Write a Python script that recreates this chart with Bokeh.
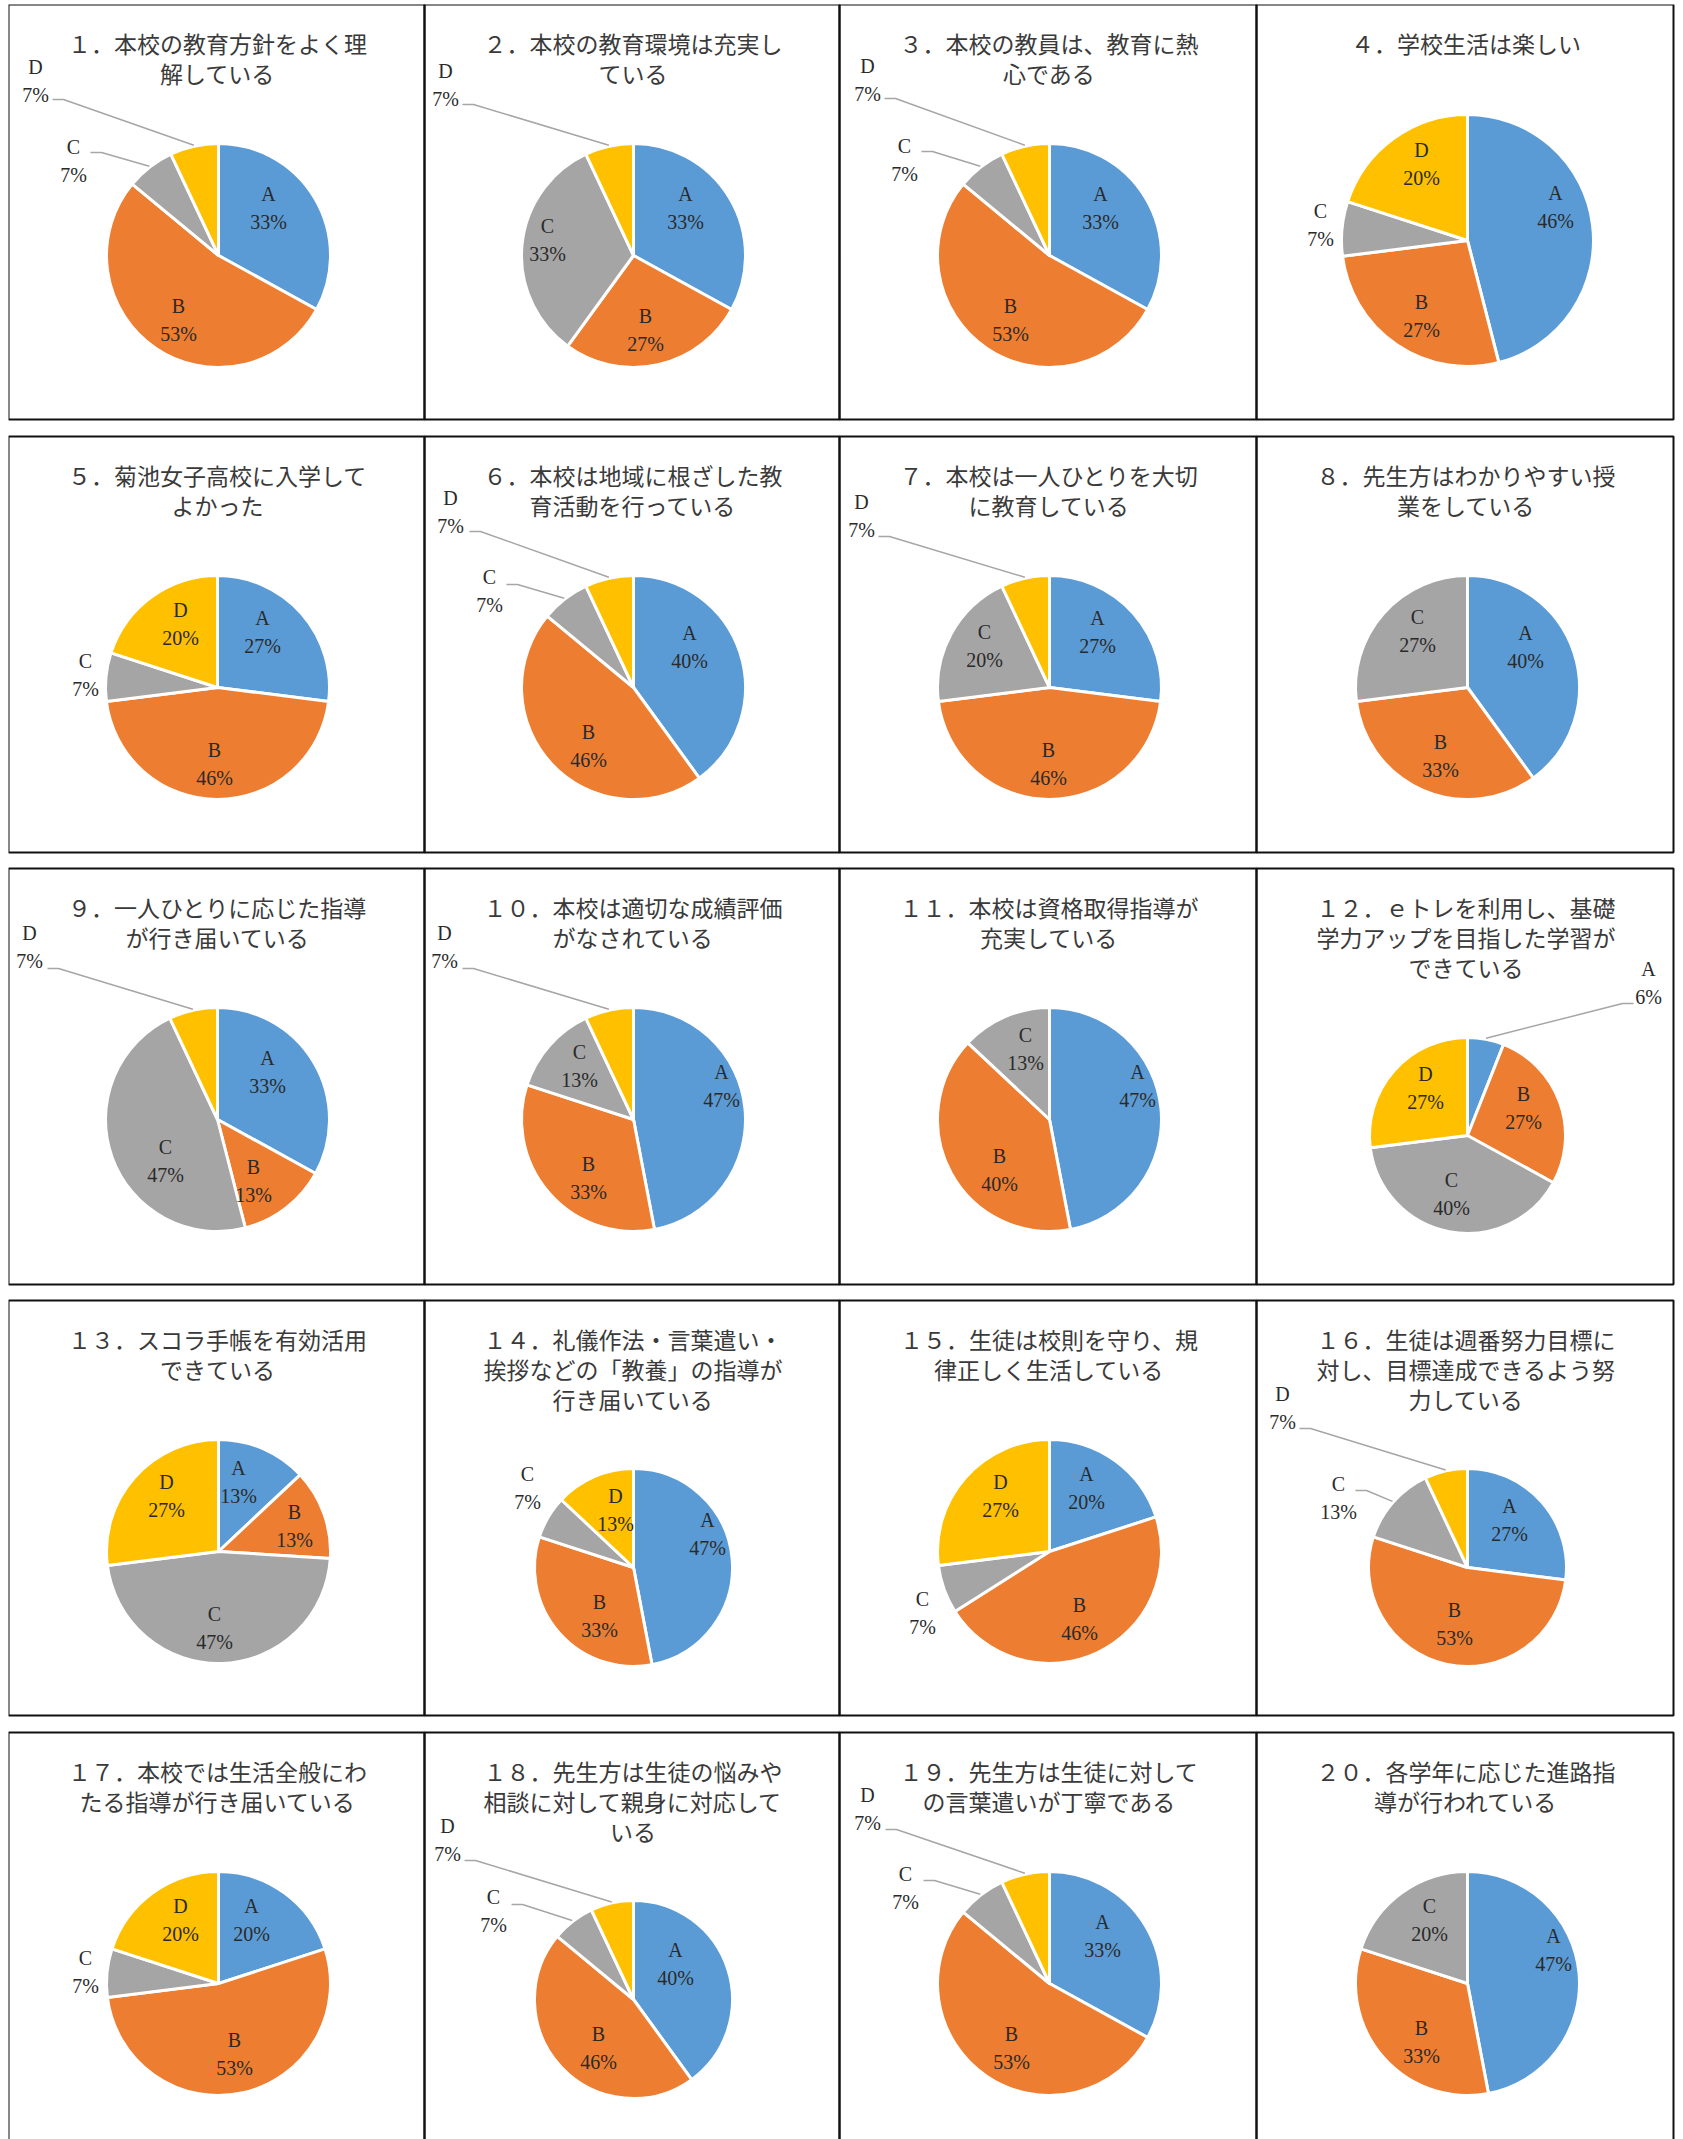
import math
from bokeh.plotting import figure
from bokeh.models import Range1d, ColumnDataSource
from bokeh.embed import file_html
from bokeh.resources import INLINE
from bokeh.core.properties import value

# ---------------- data ----------------
CATEGORIES = ["A", "B", "C", "D"]
A_PCT = [33, 33, 33, 46, 27, 40, 27, 40, 33, 47, 47, 6, 13, 47, 20, 27, 20, 40, 33, 47]
B_PCT = [53, 27, 53, 27, 46, 46, 46, 33, 13, 33, 40, 27, 13, 33, 46, 53, 53, 46, 53, 33]
C_PCT = [7, 33, 7, 7, 7, 7, 20, 27, 47, 13, 13, 40, 47, 7, 7, 13, 7, 7, 7, 20]
D_PCT = [7, 7, 7, 20, 20, 7, 7, 0, 7, 7, 0, 27, 27, 13, 27, 7, 20, 7, 7, 0]

TITLES = [
    ["１．本校の教育方針をよく理", "解している"],
    ["２．本校の教育環境は充実し", "ている"],
    ["３．本校の教員は、教育に熱", "心である"],
    ["４．学校生活は楽しい"],
    ["５．菊池女子高校に入学して", "よかった"],
    ["６．本校は地域に根ざした教", "育活動を行っている"],
    ["７．本校は一人ひとりを大切", "に教育している"],
    ["８．先生方はわかりやすい授", "業をしている"],
    ["９．一人ひとりに応じた指導", "が行き届いている"],
    ["１０．本校は適切な成績評価", "がなされている"],
    ["１１．本校は資格取得指導が", "充実している"],
    ["１２．ｅトレを利用し、基礎", "学力アップを目指した学習が", "できている"],
    ["１３．スコラ手帳を有効活用", "できている"],
    ["１４．礼儀作法・言葉遣い・", "挨拶などの「教養」の指導が", "行き届いている"],
    ["１５．生徒は校則を守り、規", "律正しく生活している"],
    ["１６．生徒は週番努力目標に", "対し、目標達成できるよう努", "力している"],
    ["１７．本校では生活全般にわ", "たる指導が行き届いている"],
    ["１８．先生方は生徒の悩みや", "相談に対して親身に対応して", "いる"],
    ["１９．先生方は生徒に対して", "の言葉遣いが丁寧である"],
    ["２０．各学年に応じた進路指", "導が行われている"],
]

# ---------------- layout (page pixels) ----------------
COL_EDGES = [8, 424, 839, 1256, 1673]
ROW_TOPS = [4, 436, 868, 1300, 1732]
ROW_BOTTOMS = [419, 852, 1284, 1715, 2200]

PIE_GEOM = [
    (218, 255, 112), (633, 255, 112), (1049, 255, 112), (1467, 240, 126),
    (217, 687, 112), (633, 687, 112), (1049, 687, 112), (1467, 687, 112),
    (217, 1119, 112), (633, 1119, 112), (1049, 1119, 112), (1467, 1135, 98),
    (218, 1551, 112), (633, 1567, 99), (1049, 1551, 112), (1467, 1567, 99),
    (218, 1983, 112), (633, 1999, 99), (1049, 1983, 112), (1467, 1983, 112),
]

# label block centre; optional leader start offset (dx, dy)
LABEL_POS = [
    [(268, 207), (178, 319), (73, 160, 17, -8), (35, 80, 17, 19)],
    [(685, 207), (645, 329), (547, 239), (445, 84, 17, 20)],
    [(1100, 207), (1010, 319), (904, 159, 17, -8), (867, 79, 17, 19)],
    [(1555, 206), (1421, 315), (1320, 224), (1421, 163)],
    [(262, 631), (214, 763), (85, 674), (180, 623)],
    [(689, 646), (588, 745), (489, 590, 17, -6), (450, 511, 19, 20)],
    [(1097, 631), (1048, 763), (984, 645), (861, 515, 17, 21)],
    [(1525, 646), (1440, 755), (1417, 630), None],
    [(267, 1071), (253, 1180), (165, 1160), (29, 946, 18, 22)],
    [(721, 1085), (588, 1177), (579, 1065), (444, 946, 18, 22)],
    [(1137, 1085), (999, 1169), (1025, 1048), None],
    [(1648, 982, -15, 21), (1523, 1107), (1451, 1193), (1425, 1087)],
    [(238, 1481), (294, 1525), (214, 1627), (166, 1495)],
    [(707, 1533), (599, 1615), (527, 1487), (615, 1509)],
    [(1086, 1487), (1079, 1618), (922, 1612), (1000, 1495)],
    [(1509, 1519), (1454, 1623), (1338, 1497, 17, -7), (1282, 1407, 17, 21)],
    [(251, 1919), (234, 2053), (85, 1971), (180, 1919)],
    [(675, 1963), (598, 2047), (493, 1910, 18, -6), (447, 1839, 17, 21)],
    [(1102, 1935), (1011, 2047), (905, 1887, 18, -7), (867, 1808, 18, 21)],
    [(1553, 1949), (1421, 2041), (1429, 1919), None],
]

COLORS = ["#5B9BD5", "#ED7D31", "#A5A5A5", "#FFC000"]
TITLE_COLOR = "#3a3a3a"
LABEL_COLOR = "#2a2a2a"
LEADER_COLOR = "#A6A6A6"

X0, Y0 = 8, 4
W, H = 1667, 2135
p = figure(width=W, height=H, x_range=Range1d(X0, X0 + W), y_range=Range1d(-(Y0 + H), -Y0),
           x_axis_location=None, y_axis_location=None, toolbar_location=None,
           output_backend="svg", min_border=0, outline_line_color=None,
           background_fill_color="white", border_fill_color="white")
p.margin = (Y0, 0, 0, X0)
p.xgrid.visible = False
p.ygrid.visible = False

# panel frames
qs = dict(left=[], right=[], top=[], bottom=[])
for r in range(5):
    for c in range(4):
        qs["left"].append(COL_EDGES[c])
        qs["right"].append(COL_EDGES[c + 1])
        qs["top"].append(-ROW_TOPS[r])
        qs["bottom"].append(-ROW_BOTTOMS[r])
p.quad(source=ColumnDataSource(qs), left="left", right="right", top="top", bottom="bottom",
       fill_color=None, line_color="#111111", line_width=2)

wedges = dict(x=[], y=[], r=[], s=[], e=[], color=[])
let = dict(x=[], y=[], t=[])
pct = dict(x=[], y=[], t=[])
lead = dict(xs=[], ys=[])
tit = dict(x=[], y=[], t=[])

for i in range(20):
    vals = [A_PCT[i], B_PCT[i], C_PCT[i], D_PCT[i]]
    total = float(sum(vals))
    cx, cy, rad = PIE_GEOM[i]
    cum = 0.0
    for k, v in enumerate(vals):
        if v <= 0:
            continue
        f0 = cum / total
        f1 = (cum + v) / total
        cum += v
        wedges["x"].append(cx)
        wedges["y"].append(-cy)
        wedges["r"].append(rad)
        wedges["s"].append(math.pi / 2 - 2 * math.pi * f0)
        wedges["e"].append(math.pi / 2 - 2 * math.pi * f1)
        wedges["color"].append(COLORS[k])
        lp = LABEL_POS[i][k]
        if lp is None:
            continue
        lx, ly = lp[0], lp[1]
        let["x"].append(lx); let["y"].append(-(ly - 14)); let["t"].append(CATEGORIES[k])
        pct["x"].append(lx); pct["y"].append(-(ly + 14)); pct["t"].append(f"{v}%")
        if len(lp) == 4:
            th = 2 * math.pi * (f0 + f1) / 2
            ex = cx + (rad + 1) * math.sin(th)
            ey = cy - (rad + 1) * math.cos(th)
            sx, sy = lx + lp[2], ly + lp[3]
            sgn = 1 if ex > sx else -1
            lead["xs"].append([sx, sx + 11 * sgn, ex])
            lead["ys"].append([-sy, -sy, -ey])
    col = i % 4
    row = i // 4
    tx = (COL_EDGES[col] + COL_EDGES[col + 1]) / 2 + 1
    for j, line in enumerate(TITLES[i]):
        tit["x"].append(tx)
        tit["y"].append(-(ROW_TOPS[row] + 38 + 30 * j))
        tit["t"].append(line)

p.wedge(source=ColumnDataSource(wedges), x="x", y="y", radius="r", start_angle="s",
        end_angle="e", direction="clock", fill_color="color", line_color="white", line_width=3)
p.multi_line(source=ColumnDataSource(lead), xs="xs", ys="ys", line_color=LEADER_COLOR, line_width=1.5)
for d in (let, pct):
    p.text(source=ColumnDataSource(d), x="x", y="y", text="t", text_align="center",
           text_baseline="middle", text_font=value("Liberation Serif"), text_font_size="20px",
           text_color=LABEL_COLOR)
p.text(source=ColumnDataSource(tit), x="x", y="y", text="t", text_align="center",
       text_baseline="middle", text_font=value("Noto Sans CJK JP"), text_font_size="23px",
       text_color=TITLE_COLOR)

open("out.html", "w").write(file_html(p, INLINE))
